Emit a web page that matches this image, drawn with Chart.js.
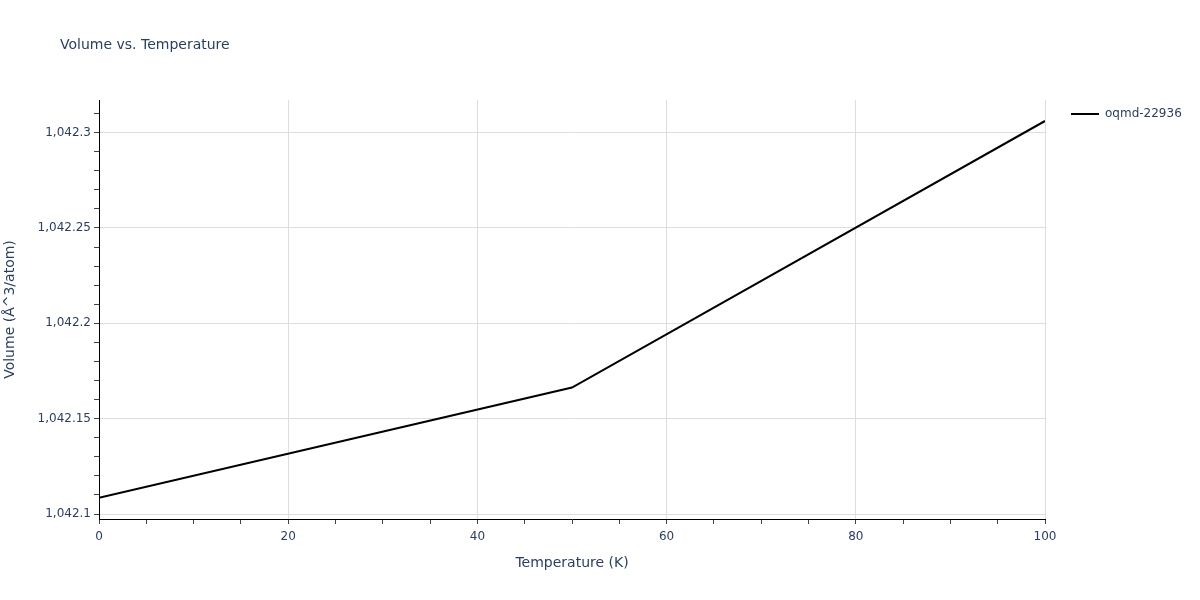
<!DOCTYPE html>
<html>
<head>
<meta charset="utf-8">
<script src="https://cdn.jsdelivr.net/npm/chart.js@4/dist/chart.umd.min.js"></script>
<style>
  html, body { margin: 0; padding: 0; background: #fff; }
</style>
</head>
<body>
<canvas id="myChart" width="1200" height="600"></canvas>
<script>
// Volume vs. Temperature, oqmd-22936

const temperature = [0, 50, 100];
const volume = [1042.1085, 1042.1663, 1042.3061];
const seriesName = "oqmd-22936";

const xTickValues = [0, 20, 40, 60, 80, 100];
const xTickLabels = ["0", "20", "40", "60", "80", "100"];
const yTickValues = [1042.1, 1042.15, 1042.2, 1042.25, 1042.3];
const yTickLabels = ["1,042.1", "1,042.15", "1,042.2", "1,042.25", "1,042.3"];

const xRange = [0, 100];
const yRange = [1042.0974, 1042.3171];
const xMinorStep = 5;
const yMinorStep = 0.01;

const textColor = "#2a3f5f";
const gridColor = "#dedede";

Chart.defaults.font.family = "'DejaVu Sans', Verdana, sans-serif";
Chart.defaults.color = textColor;

const findMajor = (values, v, eps) => values.findIndex((m) => Math.abs(m - v) < eps);

// major + minor tick list for an axis
const buildTicks = (values, step, lo, hi, eps) => {
  const out = [];
  const start = Math.ceil((lo - eps) / step);
  const end = Math.floor((hi + eps) / step);
  for (let k = start; k <= end; k++) {
    let v = k * step;
    const idx = findMajor(values, v, eps);
    if (idx >= 0) v = values[idx];
    out.push({ value: v });
  }
  return out;
};

const overlay = {
  id: "overlay",
  afterDraw(chart) {
    const c = chart.ctx;
    c.save();
    // title
    c.fillStyle = textColor;
    c.font = "14px 'DejaVu Sans', Verdana, sans-serif";
    c.textBaseline = "middle";
    c.textAlign = "left";
    c.fillText("Volume vs. Temperature", 60, 45);
    // legend
    c.strokeStyle = "#000";
    c.lineWidth = 2;
    c.beginPath();
    c.moveTo(1071, 114);
    c.lineTo(1099, 114);
    c.stroke();
    c.font = "12px 'DejaVu Sans', Verdana, sans-serif";
    c.fillText(seriesName, 1105, 114);
    c.restore();
  },
};

const ctx = document.getElementById("myChart");

new Chart(ctx, {
  type: "line",
  data: {
    datasets: [
      {
        label: seriesName,
        data: temperature.map((t, i) => ({ x: t, y: volume[i] })),
        borderColor: "#000",
        borderWidth: 2,
        pointRadius: 0,
        fill: false,
        tension: 0,
      },
    ],
  },
  options: {
    responsive: false,
    animation: false,
    devicePixelRatio: 1,
    layout: { padding: { top: 100, right: 155, left: 0, bottom: 0 } },
    plugins: {
      legend: { display: false },
      title: { display: false },
      tooltip: { enabled: false },
    },
    scales: {
      x: {
        type: "linear",
        position: "bottom",
        min: xRange[0],
        max: xRange[1],
        afterBuildTicks: (scale) => {
          scale.ticks = buildTicks(xTickValues, xMinorStep, xRange[0], xRange[1], 1e-6);
        },
        afterFit: (scale) => {
          scale.height = 81;
        },
        ticks: {
          autoSkip: false,
          maxRotation: 0,
          padding: 6,
          font: { size: 12 },
          callback: (v) => {
            const i = findMajor(xTickValues, v, 1e-6);
            return i >= 0 ? xTickLabels[i] : "";
          },
        },
        grid: {
          color: (c) =>
            c.tick && findMajor(xTickValues, c.tick.value, 1e-6) >= 0 ? gridColor : "rgba(0,0,0,0)",
          tickColor: "#444",
          tickLength: 5,
          lineWidth: 1,
        },
        border: { color: "#000", width: 1 },
        title: {
          display: true,
          text: "Temperature (K)",
          font: { size: 14 },
          padding: { top: 0, bottom: 28 },
        },
      },
      y: {
        type: "linear",
        min: yRange[0],
        max: yRange[1],
        afterBuildTicks: (scale) => {
          scale.ticks = buildTicks(yTickValues, yMinorStep, yRange[0], yRange[1], 1e-6);
        },
        afterFit: (scale) => {
          scale.width = 99;
        },
        ticks: {
          autoSkip: false,
          padding: 3,
          font: { size: 12 },
          callback: (v) => {
            const i = findMajor(yTickValues, v, 1e-6);
            return i >= 0 ? yTickLabels[i] : "";
          },
        },
        grid: {
          color: (c) =>
            c.tick && findMajor(yTickValues, c.tick.value, 1e-6) >= 0 ? gridColor : "rgba(0,0,0,0)",
          tickColor: "#444",
          tickLength: 5,
          lineWidth: 1,
        },
        border: { color: "#000", width: 1 },
        title: {
          display: true,
          text: "Volume (Å^3/atom)",
          font: { size: 14 },
          padding: { top: 2, bottom: 0 },
        },
      },
    },
  },
  plugins: [overlay],
});
</script>
</body>
</html>
